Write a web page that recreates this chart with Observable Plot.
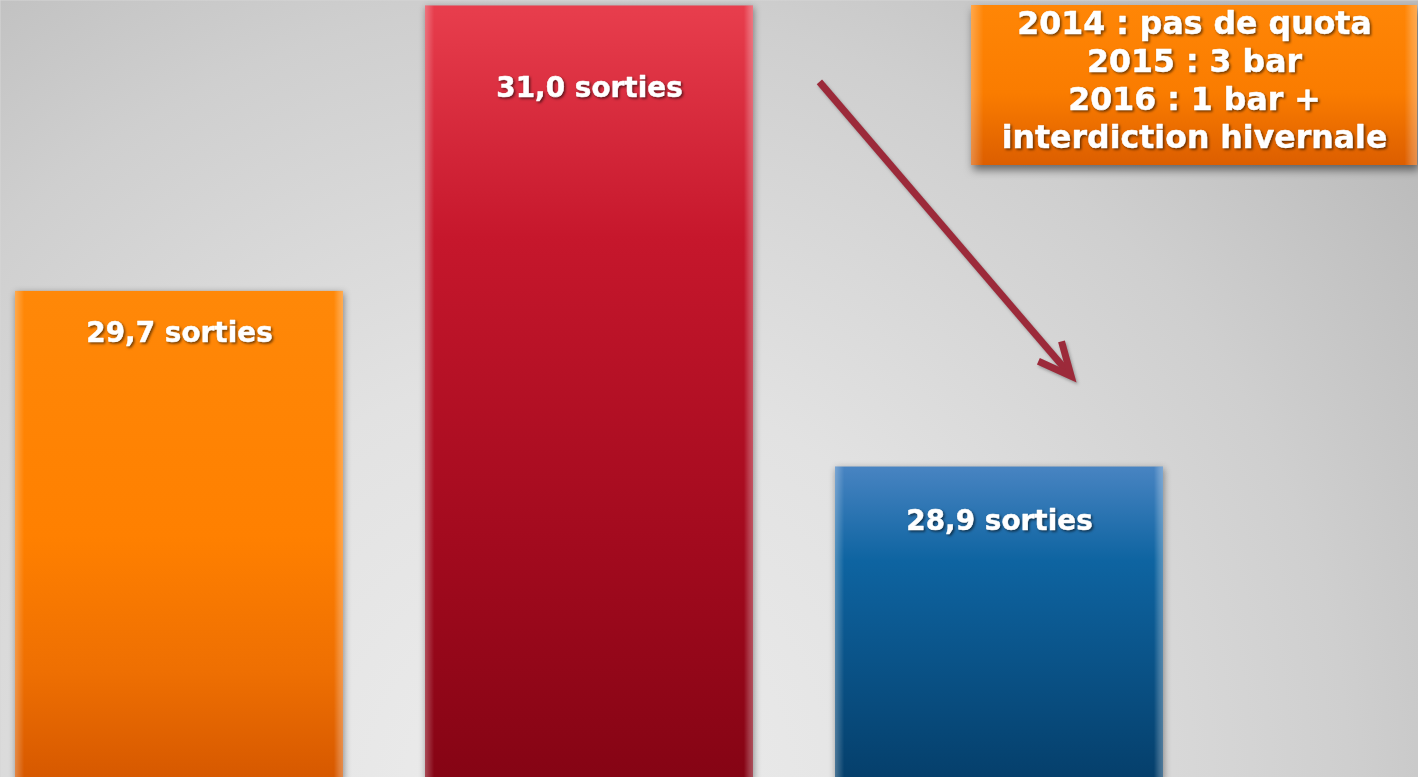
<!DOCTYPE html>
<html>
<head>
<meta charset="utf-8">
<script src="https://cdn.jsdelivr.net/npm/d3@7"></script>
<script src="https://cdn.jsdelivr.net/npm/@observablehq/plot@0.6"></script>
<style>
html, body { margin: 0; padding: 0; overflow: hidden; background: #d6d6d6; }
#chart svg { display: block; }
</style>
</head>
<body>
<div id="chart"></div>
<script>
// ---- data ----
const years = ["2014", "2015", "2016"];
const sorties = [29.7, 31.0, 28.9];
const unitLabel = "sorties";
const noteLines = ["2014 : pas de quota", "2015 : 3 bar", "2016 : 1 bar +", "interdiction hivernale"];

// ---- styles (kept apart from the data) ----
const barGradients = [
  [[0, "#ff8808"], [0.5, "#ff8000"], [0.78, "#ee6f02"], [1, "#d65800"]],
  [[0, "#e83e4d"], [0.3, "#c6172c"], [0.7, "#a20a1e"], [1, "#850414"]],
  [[0, "#4884c2"], [0.3, "#0e64a1"], [1, "#053f6b"]]
];
const labelDy = [42, 82, 54];
const yDomain = [27.486, 31.025];
const baseline = 27.47;
const arrowSpec = {from: [1.962, 30.652], to: [2.576, 29.312]}; // [band steps from first bar, value]
const arrowStyle = {color: "#9c2a3a", width: 7, head: 36, spread: 25};
const noteBox = {right: 1, top: 5, width: 446, height: 160, centerDx: -224, textDy: 6};

const W = 1418, H = 777;
const FONT = "DejaVu Sans, Verdana, sans-serif";

const rows = years.map((year, i) => ({
  year,
  value: sorties[i],
  label: sorties[i].toFixed(1).replace(".", ",") + " " + unitLabel,
  fill: `url(#barGrad${i})`
}));

function arrowMark(index, scales, values, dims) {
  const x = scales.x, y = scales.y;
  const x0 = x(years[0]);
  const step = x(years[1]) - x(years[0]);
  const px = b => x0 + b * step;
  const x1 = px(arrowSpec.from[0]), y1 = y(arrowSpec.from[1]);
  const x2 = px(arrowSpec.to[0]), y2 = y(arrowSpec.to[1]);
  const ang = Math.atan2(y2 - y1, x2 - x1);
  const sp = arrowStyle.spread * Math.PI / 180, h = arrowStyle.head;
  const g = d3.create("svg:g").attr("filter", "url(#lineShadow)");
  g.append("line")
    .attr("x1", x1).attr("y1", y1)
    .attr("x2", x2 - Math.cos(ang) * 3).attr("y2", y2 - Math.sin(ang) * 3)
    .attr("stroke", arrowStyle.color).attr("stroke-width", arrowStyle.width);
  const pts = [
    [x2 - h * Math.cos(ang - sp), y2 - h * Math.sin(ang - sp)],
    [x2, y2],
    [x2 - h * Math.cos(ang + sp), y2 - h * Math.sin(ang + sp)]
  ];
  g.append("polyline")
    .attr("points", pts.map(p => p.join(",")).join(" "))
    .attr("fill", "none").attr("stroke", arrowStyle.color)
    .attr("stroke-width", arrowStyle.width).attr("stroke-linejoin", "miter");
  return g.node();
}

function noteBoxMark(index, scales, values, dims) {
  const g = d3.create("svg:g");
  const bx = dims.width - noteBox.right - noteBox.width;
  g.append("rect").attr("x", bx).attr("y", noteBox.top)
    .attr("width", noteBox.width).attr("height", noteBox.height)
    .attr("fill", "url(#noteGrad)").attr("filter", "url(#boxShadow)");
  g.append("rect").attr("x", bx).attr("y", noteBox.top)
    .attr("width", noteBox.width).attr("height", noteBox.height)
    .attr("fill", "url(#bevelH)");
  return g.node();
}

const labelMarks = rows.map((r, i) => Plot.text([r], {
  x: "year", y: "value", text: "label", dy: labelDy[i],
  fill: "white", stroke: "white", strokeWidth: 0.5,
  fontSize: 27.9, fontWeight: "bold", fontFamily: FONT
}));

const chart = Plot.plot({
  width: W, height: H,
  margin: 0,
  style: {background: "none", overflow: "hidden", fontFamily: FONT},
  x: {domain: years, range: [14, 1164], paddingInner: 0.2, paddingOuter: 0, axis: null},
  y: {domain: yDomain, axis: null},
  color: {type: "identity"},
  marks: [
    Plot.frame({fill: "url(#bgGrad)", stroke: "none"}),
    Plot.barY(rows, {x: "year", y1: baseline, y2: "value", fill: "fill"}),
    Plot.barY(rows, {x: "year", y1: baseline, y2: "value", fill: "url(#bevelH)"}),
    ...labelMarks,
    arrowMark,
    noteBoxMark,
    Plot.text([noteLines.join("\n")], {
      text: d => d, frameAnchor: "top-right", dx: noteBox.centerDx, dy: noteBox.textDy,
      textAnchor: "middle", lineAnchor: "top", lineHeight: 1.21,
      fill: "white", stroke: "white", strokeWidth: 0.5,
      fontSize: 31.6, fontWeight: "bold", fontFamily: FONT
    })
  ]
});

// ---- defs: gradients & filters ----
const svg = d3.select(chart);
const defs = svg.insert("defs", ":first-child");
const bg = defs.append("radialGradient").attr("id", "bgGrad")
  .attr("gradientUnits", "userSpaceOnUse").attr("cx", 560).attr("cy", 790).attr("r", 1050);
[[0, "#ededed"], [0.4, "#e2e2e2"], [0.75, "#cfcfcf"], [1, "#bcbcbc"]]
  .forEach(([o, c]) => bg.append("stop").attr("offset", o).attr("stop-color", c));
barGradients.forEach((stops, i) => {
  const lg = defs.append("linearGradient").attr("id", `barGrad${i}`)
    .attr("x1", 0).attr("y1", 0).attr("x2", 0).attr("y2", 1);
  stops.forEach(([o, c]) => lg.append("stop").attr("offset", o).attr("stop-color", c));
});
const ng = defs.append("linearGradient").attr("id", "noteGrad")
  .attr("x1", 0).attr("y1", 0).attr("x2", 0).attr("y2", 1);
[[0, "#ff8606"], [0.55, "#fa7c00"], [1, "#dc5e00"]]
  .forEach(([o, c]) => ng.append("stop").attr("offset", o).attr("stop-color", c));
const bh = defs.append("linearGradient").attr("id", "bevelH")
  .attr("x1", 0).attr("y1", 0).attr("x2", 1).attr("y2", 0);
[[0, "#fff", 0.28], [0.012, "#fff", 0.16], [0.028, "#fff", 0], [0.972, "#fff", 0], [0.988, "#fff", 0.2], [1, "#fff", 0.3]]
  .forEach(([o, c, a]) => bh.append("stop").attr("offset", o).attr("stop-color", c).attr("stop-opacity", a));

function shadow(id, dx, dy, sd, op) {
  defs.append("filter").attr("id", id)
    .attr("x", "-20%").attr("y", "-20%").attr("width", "140%").attr("height", "140%")
    .attr("color-interpolation-filters", "sRGB")
    .append("feDropShadow").attr("dx", dx).attr("dy", dy).attr("stdDeviation", sd)
    .attr("flood-color", "#000").attr("flood-opacity", op);
}
shadow("barShadow", 1, 2, 3.5, 0.4);
shadow("boxShadow", 2, 5, 4, 0.5);
shadow("textShadow", 1.5, 1.5, 0.8, 0.55);
shadow("lineShadow", 1.5, 2, 1.5, 0.3);

const barGroups = chart.querySelectorAll('g[aria-label="bar"]');
if (barGroups[0]) barGroups[0].setAttribute("filter", "url(#barShadow)");
chart.querySelectorAll('g[aria-label="text"]').forEach(g => g.setAttribute("filter", "url(#textShadow)"));

document.getElementById("chart").appendChild(chart);
</script>
</body>
</html>
